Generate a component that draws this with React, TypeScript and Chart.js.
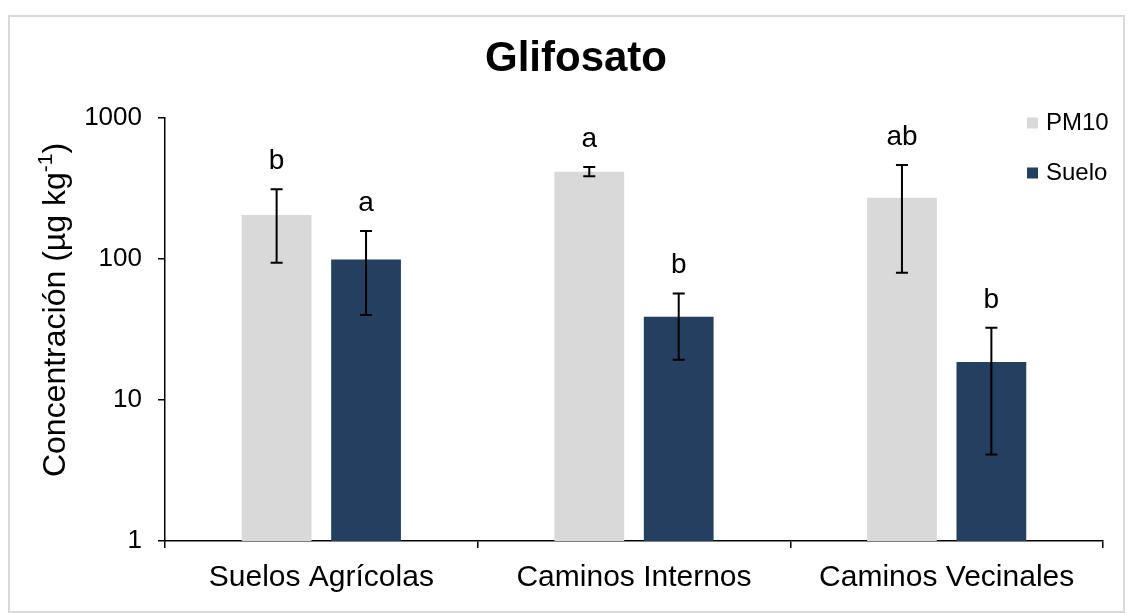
import React, { useEffect, useRef } from "react";
import { Chart, registerables } from "chart.js";

Chart.register(...registerables);

const categories = ["Suelos Agrícolas", "Caminos Internos", "Caminos Vecinales"];
const seriesNames = ["PM10", "Suelo"];
const pm10Values = [205, 415, 272];
const pm10Upper = [313, 450, 464];
const pm10Lower = [94, 387, 80];
const sueloValues = [99, 39, 18.6];
const sueloUpper = [158, 57, 32.5];
const sueloLower = [40, 19.3, 4.1];
const pm10Letters = ["b", "a", "ab"];
const sueloLetters = ["a", "b", "b"];
const yTicks = [1, 10, 100, 1000];
const chartTitle = "Glifosato";
const yTitleMain = "Concentración (µg kg";
const yTitleSup = "-1";
const yTitleEnd = ")";

const COLORS = ["#d9d9d9", "#243f60"];
const FONT = "'Liberation Sans', Arial, sans-serif";

const errorLow = [pm10Lower, sueloLower];
const errorHigh = [pm10Upper, sueloUpper];
const letters = [pm10Letters, sueloLetters];

const decorPlugin = {
  id: "decor",
  afterDatasetsDraw(chart: any) {
    const ctx = chart.ctx;
    const y = chart.scales.y;
    ctx.save();
    chart.data.datasets.forEach((_: any, di: number) => {
      const meta = chart.getDatasetMeta(di);
      meta.data.forEach((bar: any, j: number) => {
        const x = bar.x;
        const yh = y.getPixelForValue(errorHigh[di][j]);
        const yl = y.getPixelForValue(errorLow[di][j]);
        ctx.strokeStyle = "#000";
        ctx.lineWidth = 2;
        ctx.beginPath();
        ctx.moveTo(x, yh);
        ctx.lineTo(x, yl);
        ctx.moveTo(x - 6, yh);
        ctx.lineTo(x + 6, yh);
        ctx.moveTo(x - 6, yl);
        ctx.lineTo(x + 6, yl);
        ctx.stroke();
        ctx.fillStyle = "#000";
        ctx.font = `28px ${FONT}`;
        ctx.textAlign = "center";
        ctx.textBaseline = "alphabetic";
        ctx.fillText(letters[di][j], x, yh - 20);
      });
    });
    ctx.restore();
  },
  afterDraw(chart: any) {
    const ctx = chart.ctx;
    ctx.save();
    // title
    ctx.fillStyle = "#000";
    ctx.font = `bold 42px ${FONT}`;
    ctx.textAlign = "center";
    ctx.textBaseline = "middle";
    ctx.fillText(chartTitle, 566, 42);
    // y title
    ctx.save();
    ctx.translate(46, 293);
    ctx.rotate(-Math.PI / 2);
    ctx.font = `32px ${FONT}`;
    const w1 = ctx.measureText(yTitleMain).width;
    ctx.font = `21px ${FONT}`;
    const w2 = ctx.measureText(yTitleSup).width;
    ctx.font = `32px ${FONT}`;
    const w3 = ctx.measureText(yTitleEnd).width;
    const total = w1 + w2 + w3;
    let cx = -total / 2;
    ctx.textAlign = "left";
    ctx.textBaseline = "middle";
    ctx.fillText(yTitleMain, cx, 0);
    cx += w1;
    ctx.font = `21px ${FONT}`;
    ctx.fillText(yTitleSup, cx, -10);
    cx += w2;
    ctx.font = `32px ${FONT}`;
    ctx.fillText(yTitleEnd, cx, 0);
    ctx.restore();
    // legend
    ctx.font = `24px ${FONT}`;
    ctx.textAlign = "left";
    ctx.textBaseline = "middle";
    seriesNames.forEach((name, i) => {
      const cy = 106 + i * 50;
      ctx.fillStyle = COLORS[i];
      ctx.fillRect(1017, cy - 5.5, 11, 11);
      ctx.fillStyle = "#000";
      ctx.fillText(name, 1036, cy);
    });
    ctx.restore();
  },
};

export default function App() {
  const ref = useRef<HTMLCanvasElement>(null);
  useEffect(() => {
    if (!ref.current) return;
    const chart = new Chart(ref.current, {
      type: "bar",
      data: {
        labels: categories,
        datasets: [
          { label: seriesNames[0], data: pm10Values, backgroundColor: COLORS[0] },
          { label: seriesNames[1], data: sueloValues, backgroundColor: COLORS[1] },
        ],
      },
      options: {
        responsive: false,
        maintainAspectRatio: false,
        animation: false,
        layout: { padding: { top: 101, right: 20, left: 0, bottom: 0 } },
        datasets: { bar: { categoryPercentage: 0.572, barPercentage: 0.78 } },
        plugins: { legend: { display: false }, title: { display: false }, tooltip: { enabled: false } },
        scales: {
          x: {
            afterFit: (s: any) => { s.height = 70; },
            grid: { display: true, drawOnChartArea: false, drawTicks: true, tickLength: 7, color: "#000", lineWidth: 1.5, offset: true },
            border: { display: true, color: "#000", width: 1.5 },
            ticks: { color: "#000", font: { family: FONT, size: 30 }, padding: 12, maxRotation: 0 },
          },
          y: {
            type: "logarithmic",
            min: 1,
            max: 1000,
            afterFit: (s: any) => { s.width = 155; },
            afterBuildTicks: (s: any) => { s.ticks = yTicks.map((v) => ({ value: v })); },
            grid: { display: true, drawOnChartArea: false, drawTicks: true, tickLength: 7, color: "#000", lineWidth: 1.5 },
            border: { display: true, color: "#000", width: 1.5 },
            ticks: { color: "#000", font: { family: FONT, size: 26 }, padding: 16, callback: (v: any) => String(v) },
          },
        },
      },
      plugins: [decorPlugin],
    });
    return () => chart.destroy();
  }, []);
  return (
    <div style={{ paddingTop: 7 }}>
      <div style={{ width: 1117, height: 598, border: "2px solid #d9d9d9", boxSizing: "border-box", position: "relative" }}>
        <canvas ref={ref} width={1113} height={594} style={{ display: "block" }} />
      </div>
    </div>
  );
}
